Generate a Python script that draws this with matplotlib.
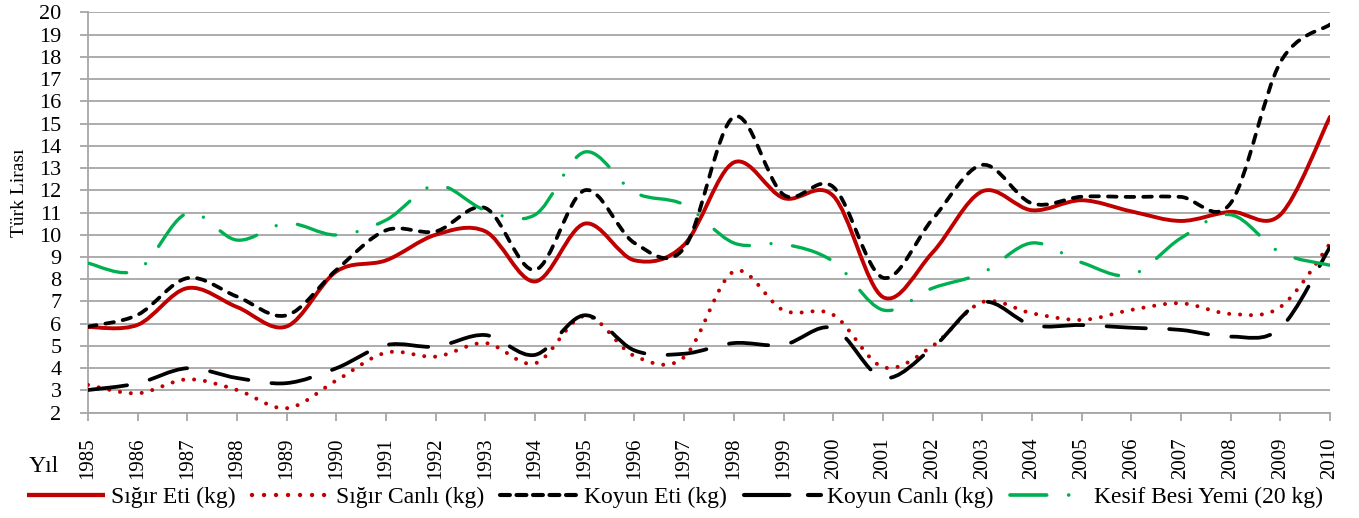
import numpy as np
import matplotlib
matplotlib.use('Agg')
import matplotlib.pyplot as plt
from matplotlib.path import Path
from matplotlib.patches import PathPatch
from matplotlib.lines import Line2D

plt.rcParams['font.family'] = ['Liberation Serif', 'DejaVu Serif']

years = list(range(1985, 2011))
sigir_eti = [5.85, 5.95, 7.6, 6.75, 5.88, 8.35, 8.85, 10.0, 10.15, 7.9, 10.5, 8.85,
             9.55, 13.25, 11.65, 11.75, 7.2, 9.2, 11.95, 11.1, 11.55, 11.05, 10.62,
             11.03, 10.9, 15.3]
sigir_canli = [3.25, 2.87, 3.5, 3.02, 2.2, 3.45, 4.7, 4.52, 5.13, 4.22, 6.35, 4.55,
               4.5, 8.35, 6.6, 6.4, 4.05, 5.0, 6.97, 6.47, 6.17, 6.62, 6.92, 6.44,
               6.75, 9.6]
koyun_eti = [5.87, 6.4, 8.05, 7.22, 6.38, 8.42, 10.2, 10.15, 11.2, 8.42, 12.0, 9.63,
             9.4, 15.3, 11.8, 12.15, 8.07, 10.7, 13.14, 11.41, 11.71, 11.7, 11.7,
             11.42, 17.75, 19.45]
koyun_canli = [3.02, 3.32, 4.0, 3.56, 3.33, 4.0, 5.04, 4.97, 5.49, 4.6, 6.38, 4.8,
               4.65, 5.13, 5.05, 5.8, 3.57, 4.92, 6.97, 5.94, 5.94, 5.82, 5.72, 5.42,
               5.8, 9.45]
kesif = [8.72, 8.41, 10.97, 9.76, 10.52, 9.99, 10.66, 12.23, 11.1, 10.9, 13.72, 11.9,
         11.35, 9.63, 9.58, 8.8, 6.62, 7.6, 8.28, 9.63, 8.75, 8.19, 9.85, 10.9,
         9.2, 8.63]

labels = ['Sığır Eti (kg)', 'Sığır Canlı (kg)', 'Koyun Eti (kg)',
          'Koyun Canlı (kg)', 'Kesif Besi Yemi (20 kg)']
series = [sigir_eti, sigir_canli, koyun_eti, koyun_canli, kesif]
colors = ['#C00000', '#C00000', '#000000', '#000000', '#00B050']
widths = [2.8, 2.9, 2.7, 2.7, 2.4]
styles = ['-', (0, (0.01, 2.7)), (0, (2.3, 2.4)), (0, (10.5, 6.2)),
          (0, (12, 6.5, 0.01, 6.5))]
legend_styles = ['-', (0, (0.01, 2.7)), (0, (2.4, 1.6)), (0, (11, 4.5)),
                 (0, (10, 6, 0.01, 6))]


def smooth_path(x, y):
    x = np.asarray(x, float)
    y = np.asarray(y, float)
    n = len(x)
    verts = [(x[0], y[0])]
    codes = [Path.MOVETO]
    for i in range(n - 1):
        i0 = max(i - 1, 0)
        i3 = min(i + 2, n - 1)
        c1 = (x[i] + (x[i + 1] - x[i0]) / 6, y[i] + (y[i + 1] - y[i0]) / 6)
        c2 = (x[i + 1] - (x[i3] - x[i]) / 6, y[i + 1] - (y[i3] - y[i]) / 6)
        verts += [c1, c2, (x[i + 1], y[i + 1])]
        codes += [Path.CURVE4] * 3
    return Path(verts, codes)


W, H = 1359, 518
fig = plt.figure(figsize=(W / 100, H / 100), dpi=100)
ax = fig.add_axes([88 / W, (H - 412.7) / H, (1330 - 88) / W, (412.7 - 12.3) / H])

grid_c = '#a6a6a6'
handles = []
for vals, c, lw, ls, lls, lab in zip(series, colors, widths, styles, legend_styles, labels):
    p = PathPatch(smooth_path(years, vals), fill=False, edgecolor=c, lw=lw,
                  linestyle=ls, capstyle='round', joinstyle='round', zorder=3)
    ax.add_patch(p)
    handles.append(Line2D([], [], color=c, lw=lw * 1.1, linestyle=lls,
                          dash_capstyle='round', solid_capstyle='butt'))

ax.set_xlim(1985, 2010)
ax.set_ylim(2, 20)
ax.set_yticks(range(2, 21))
ax.set_xticks(years)
ax.set_xticklabels([str(y) for y in years], rotation=90, fontsize=15)
ax.tick_params(axis='y', labelsize=16, length=6, width=1.3, color=grid_c, pad=13)
ax.tick_params(axis='x', length=6, width=1.3, color=grid_c, pad=11.5)
ax.yaxis.grid(True, color=grid_c, lw=1.3)
ax.set_axisbelow(True)
for s in ['top', 'right']:
    ax.spines[s].set_visible(False)
for s in ['left', 'bottom']:
    ax.spines[s].set_color(grid_c)
    ax.spines[s].set_linewidth(1.3)

fig.text(20 / W, (H - 193) / H, 'Türk Lirası', rotation=90, ha='center', va='center',
         fontsize=14)
fig.text(44 / W, (H - 467) / H, 'Yıl', ha='center', va='center', fontsize=17)

fig.legend(handles, labels, loc='center', bbox_to_anchor=(675 / W, (H - 497) / H),
           ncol=5, frameon=False, handlelength=3.3, handletextpad=0.25,
           columnspacing=0.7, prop={'size': 17})

fig.savefig('out.png', dpi=100)
